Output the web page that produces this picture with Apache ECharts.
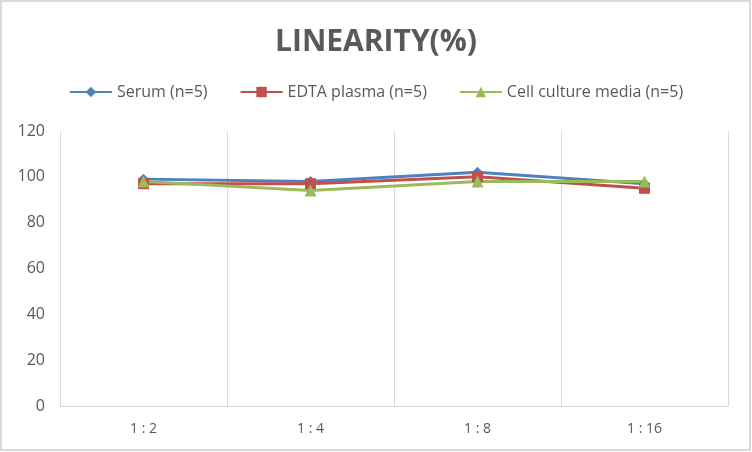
<!DOCTYPE html>
<html>
<head>
<meta charset="utf-8">
<script src="https://cdn.jsdelivr.net/npm/echarts@6/dist/echarts.min.js"></script>
<style>
html,body{margin:0;padding:0;background:#fff;}
#c{width:752px;height:452px;}
</style>
</head>
<body>
<div id="c"></div>
<script>
var categories = ['1:2', '1:4', '1:8', '1:16'];
var serum = [99, 98, 102, 97];
var edta = [97, 97, 100, 95];
var cellCulture = [98, 94, 98, 98];
var yTicks = [0, 20, 40, 60, 80, 100, 120];

var chart = echarts.init(document.getElementById('c'), null, {renderer: 'canvas'});
var txt = '#595959';
chart.setOption({
  animation: false,
  backgroundColor: '#fff',
  title: {
    text: 'LINEARITY(%)',
    left: 'center',
    top: 22,
    textStyle: {fontFamily: 'Open Sans', fontWeight: 'bold', fontSize: 30, color: txt, letterSpacing: 3}
  },
  legend: {
    top: 79,
    left: 'center',
    itemWidth: 42,
    itemHeight: 13,
    itemGap: 32,
    textStyle: {fontFamily: 'Open Sans', fontSize: 16, color: txt},
    data: ['Serum (n=5)', 'EDTA plasma (n=5)', 'Cell culture media (n=5)']
  },
  graphic: [{
    type: 'rect', shape: {x: 1, y: 1, width: 749, height: 449},
    style: {fill: 'none', stroke: '#d9d9d9', lineWidth: 2}, silent: true, z: 100
  }],
  grid: {left: 60, right: 24, top: 131, bottom: 46},
  xAxis: {
    type: 'category',
    data: categories,
    boundaryGap: true,
    axisLine: {lineStyle: {color: '#d9d9d9', width: 1}},
    axisTick: {show: false},
    splitLine: {show: true, lineStyle: {color: '#d9d9d9', width: 1}},
    axisLabel: {fontFamily: 'Open Sans', fontSize: 14, color: txt, margin: 16,
      formatter: function (v) { return v.split(':').join(' : '); }}
  },
  yAxis: {
    type: 'value',
    min: yTicks[0],
    max: yTicks[yTicks.length - 1],
    interval: yTicks[1] - yTicks[0],
    axisLine: {show: false},
    axisTick: {show: false},
    splitLine: {show: false},
    axisLabel: {fontFamily: 'Open Sans', fontSize: 16, color: txt, margin: 15}
  },
  series: [
    {name: 'Serum (n=5)', type: 'line', data: serum, symbol: 'diamond', symbolSize: 11,
     lineStyle: {width: 3, color: '#4F81BD'}, itemStyle: {color: '#4F81BD'}},
    {name: 'EDTA plasma (n=5)', type: 'line', data: edta, symbol: 'rect', symbolSize: 11,
     lineStyle: {width: 3, color: '#C0504D'}, itemStyle: {color: '#C0504D'}},
    {name: 'Cell culture media (n=5)', type: 'line', data: cellCulture, symbol: 'triangle', symbolSize: 12,
     lineStyle: {width: 3, color: '#9BBB59'}, itemStyle: {color: '#9BBB59'}}
  ]
});
</script>
</body>
</html>
